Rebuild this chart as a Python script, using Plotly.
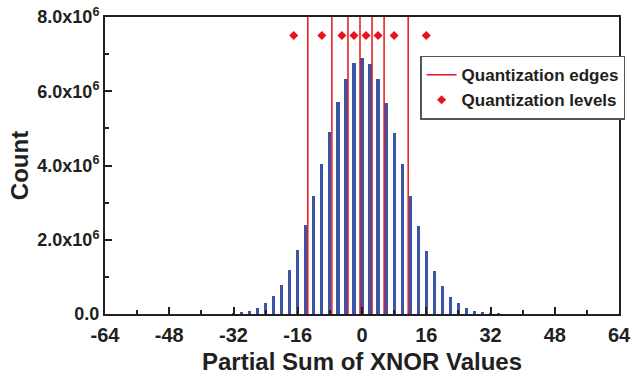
import plotly.graph_objects as go

# Histogram data: partial sums (even values) and their counts
sums = [-32, -30, -28, -26, -24, -22, -20, -18, -16, -14, -12, -10, -8, -6, -4, -2,
        0, 2, 4, 6, 8, 10, 12, 14, 16, 18, 20, 22, 24, 26, 28, 30, 32, 34]
counts = [0.02e6, 0.05e6, 0.09e6, 0.17e6, 0.29e6, 0.48e6, 0.78e6, 1.18e6, 1.72e6, 2.40e6,
          3.19e6, 4.05e6, 4.90e6, 5.70e6, 6.34e6, 6.76e6,
          6.90e6, 6.73e6, 6.32e6, 5.68e6, 4.88e6, 4.03e6, 3.17e6, 2.37e6, 1.70e6, 1.17e6,
          0.75e6, 0.47e6, 0.30e6, 0.17e6, 0.09e6, 0.05e6, 0.02e6, 0.01e6]

edges = [-13.5, -7.5, -3.5, -0.5, 2.5, 5.5, 11.5]
levels = [-17, -10, -5, -2, 1, 4, 8, 16]
level_y = 7.5e6

x_ticks = [-64, -48, -32, -16, 0, 16, 32, 48, 64]
y_ticks = [0, 2e6, 4e6, 6e6, 8e6]
y_ticktext = ["0.0", "2.0x10<sup>6</sup>", "4.0x10<sup>6</sup>", "6.0x10<sup>6</sup>", "8.0x10<sup>6</sup>"]

RED = "#e8141c"
BLUE = "#3a55a5"
DARK = "#231f20"
FONT = "Liberation Sans"

fig = go.Figure()
fig.add_trace(go.Bar(x=sums, y=counts, width=0.8, marker=dict(color=BLUE, line=dict(width=0)),
                     showlegend=False))

ex, ey = [], []
for e in edges:
    ex += [e, e, None]
    ey += [0, 8e6, None]
fig.add_trace(go.Scatter(x=ex, y=ey, mode="lines", line=dict(color=RED, width=1.5),
                         name="<b>Quantization edges</b>"))
fig.add_trace(go.Scatter(x=levels, y=[level_y] * len(levels), mode="markers",
                         marker=dict(symbol="diamond", size=7, color=RED),
                         name="<b>Quantization levels</b>"))

axis_common = dict(showline=True, linecolor=DARK, linewidth=2, mirror=True, ticks="inside",
                   tickcolor=DARK, tickwidth=2, ticklen=7, showgrid=False, zeroline=False,
                   automargin=False)

fig.update_xaxes(range=[-64, 64], tickvals=x_ticks, ticktext=["<b>%d</b>" % v for v in x_ticks],
                 tickfont=dict(size=20, color=DARK, family=FONT), ticklabelstandoff=2,
                 minor=dict(dtick=8, tick0=0, ticks="inside", ticklen=4, tickwidth=2, tickcolor=DARK),
                 title=dict(text="<b>Partial Sum of XNOR Values</b>", standoff=8,
                            font=dict(size=24, color=DARK, family=FONT)),
                 **axis_common)
fig.update_yaxes(range=[0, 8e6], tickvals=y_ticks, ticktext=["<b>%s</b>" % t for t in y_ticktext],
                 tickfont=dict(size=18, color=DARK, family=FONT),
                 minor=dict(dtick=1e6, tick0=0, ticks="inside", ticklen=4, tickwidth=2, tickcolor=DARK),
                 title=dict(text="<b>Count</b>", standoff=2,
                            font=dict(size=24, color=DARK, family=FONT)),
                 **axis_common)

fig.update_layout(
    width=636, height=376,
    margin=dict(l=105, r=11, t=17, b=62),
    plot_bgcolor="white", paper_bgcolor="white",
    bargap=0,
    font=dict(family=FONT, color=DARK),
    legend=dict(x=0.613, y=0.87, xanchor="left", yanchor="top",
                bgcolor="white", bordercolor="#555555", borderwidth=1.5,
                font=dict(size=17, color=DARK, family=FONT),
                tracegroupgap=0, itemwidth=30),
)

fig.write_html("out.html")
